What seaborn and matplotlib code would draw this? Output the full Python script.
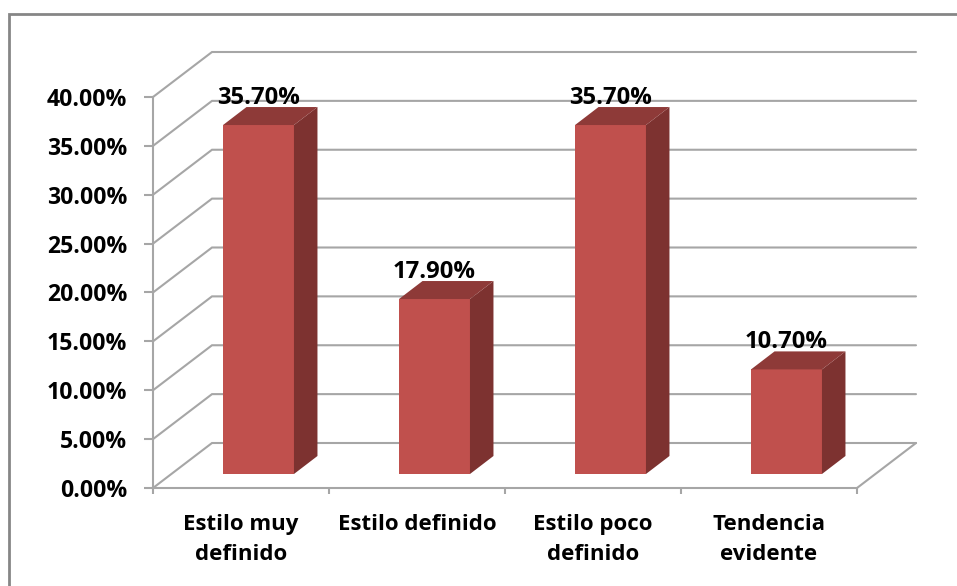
import matplotlib
matplotlib.use('Agg')
import matplotlib.pyplot as plt
import seaborn as sns
from matplotlib.lines import Line2D
from matplotlib.patches import Polygon
from matplotlib.transforms import Affine2D, IdentityTransform

categories = ['Estilo muy\ndefinido', 'Estilo definido', 'Estilo poco\ndefinido', 'Tendencia\nevidente']
values = [35.7, 17.9, 35.7, 10.7]
y_ticks = [0, 5, 10, 15, 20, 25, 30, 35, 40]

GRID = '#A6A6A6'
FRONT = '#C0504D'
SIDE = '#7D3230'
TOP = '#8E3A38'

W, H = 957, 586
sns.set_theme(style='white')
plt.rcParams['font.family'] = ['Open Sans', 'DejaVu Sans']

fig = plt.figure(figsize=(W / 100, H / 100), dpi=100, facecolor='white')
ax = fig.add_axes([153 / W, (H - 488) / H, (857 - 153) / W, (488 - 97) / H])
ax.patch.set_alpha(0)

# outer frame, only the left and top sides are inside the crop
fig.add_artist(Line2D([9, 9, W], [0, H - 14, H - 14], transform=IdentityTransform(),
                      color='#868686', linewidth=2, solid_joinstyle='miter'))

sns.barplot(x=categories, y=values, color=FRONT, saturation=1, width=0.403, ax=ax, zorder=3,
            edgecolor='none', linewidth=0)
ax.set_xlim(-0.5, 3.5)
ax.set_ylim(0, 40)

# pixel offsets of the fake 3D depth
wall_dx, wall_dy = 59, 45
bar_dx, bar_dy = 17.5, 14
side_dx, side_dy = 23.5, 18


def px(x, y):
    return ax.transData.transform((x, y))


# walls and floor
for t in y_ticks:
    x0, y0 = px(-0.5, t)
    x1, _ = px(3.5, t)
    ax.plot([x0, x0 + wall_dx, x1 + wall_dx], [y0, y0 + wall_dy, y0 + wall_dy], color=GRID, lw=1.5,
            transform=IdentityTransform(), clip_on=False, zorder=1, solid_joinstyle='miter')
x1, y1 = px(3.5, 0)
ax.plot([x1, x1 + wall_dx], [y1, y1 + wall_dy], color=GRID, lw=1.5,
        transform=IdentityTransform(), clip_on=False, zorder=1)

# bars: move the seaborn bars back into the depth and add the side and top faces
shift = Affine2D().translate(bar_dx, bar_dy)
for bar, v in zip(ax.patches, values):
    bar.set_transform(ax.transData + shift)
    bar.set_clip_on(False)
    left, bottom = px(bar.get_x(), 0)
    right, top = px(bar.get_x() + bar.get_width(), v)
    left += bar_dx
    right += bar_dx
    bottom += bar_dy
    top += bar_dy
    ax.add_patch(Polygon([(right, bottom), (right + side_dx, bottom + side_dy),
                          (right + side_dx, top + side_dy), (right, top)],
                         closed=True, facecolor=SIDE, edgecolor='none',
                         transform=IdentityTransform(), clip_on=False, zorder=3))
    ax.add_patch(Polygon([(left, top), (left + side_dx, top + side_dy),
                          (right + side_dx, top + side_dy), (right, top)],
                         closed=True, facecolor=TOP, edgecolor='none',
                         transform=IdentityTransform(), clip_on=False, zorder=3))
    ax.annotate(f'{v:.2f}%', xy=((left + right) / 2, top), xycoords=IdentityTransform(),
                xytext=(0, 27.5 * 0.72), textcoords='offset points', ha='center', va='center',
                fontsize=17.2, fontweight='bold', color='black', zorder=5, annotation_clip=False)

# axes
for name in ['top', 'right']:
    ax.spines[name].set_visible(False)
for name in ['left', 'bottom']:
    ax.spines[name].set_color(GRID)
    ax.spines[name].set_linewidth(1.5)
    ax.spines[name].set_zorder(2)

ax.set_yticks(y_ticks)
ax.set_yticklabels([f'{t:.2f}%' for t in y_ticks], fontsize=16.6, fontweight='bold', color='black')
ax.tick_params(axis='y', left=True, length=6.5, width=1.5, color=GRID, pad=12)
ax.set_xticks(range(len(categories)))
ax.set_xticklabels(categories, fontsize=16, fontweight='bold', color='black', linespacing=1.6)
ax.set_xticks([-0.5, 0.5, 1.5, 2.5, 3.5], minor=True)
ax.tick_params(axis='x', which='major', bottom=False, length=0, pad=18.5)
ax.tick_params(axis='x', which='minor', bottom=True, length=4.5, width=1.5, color=GRID)

plt.savefig('out.png', dpi=100)
plt.close()
